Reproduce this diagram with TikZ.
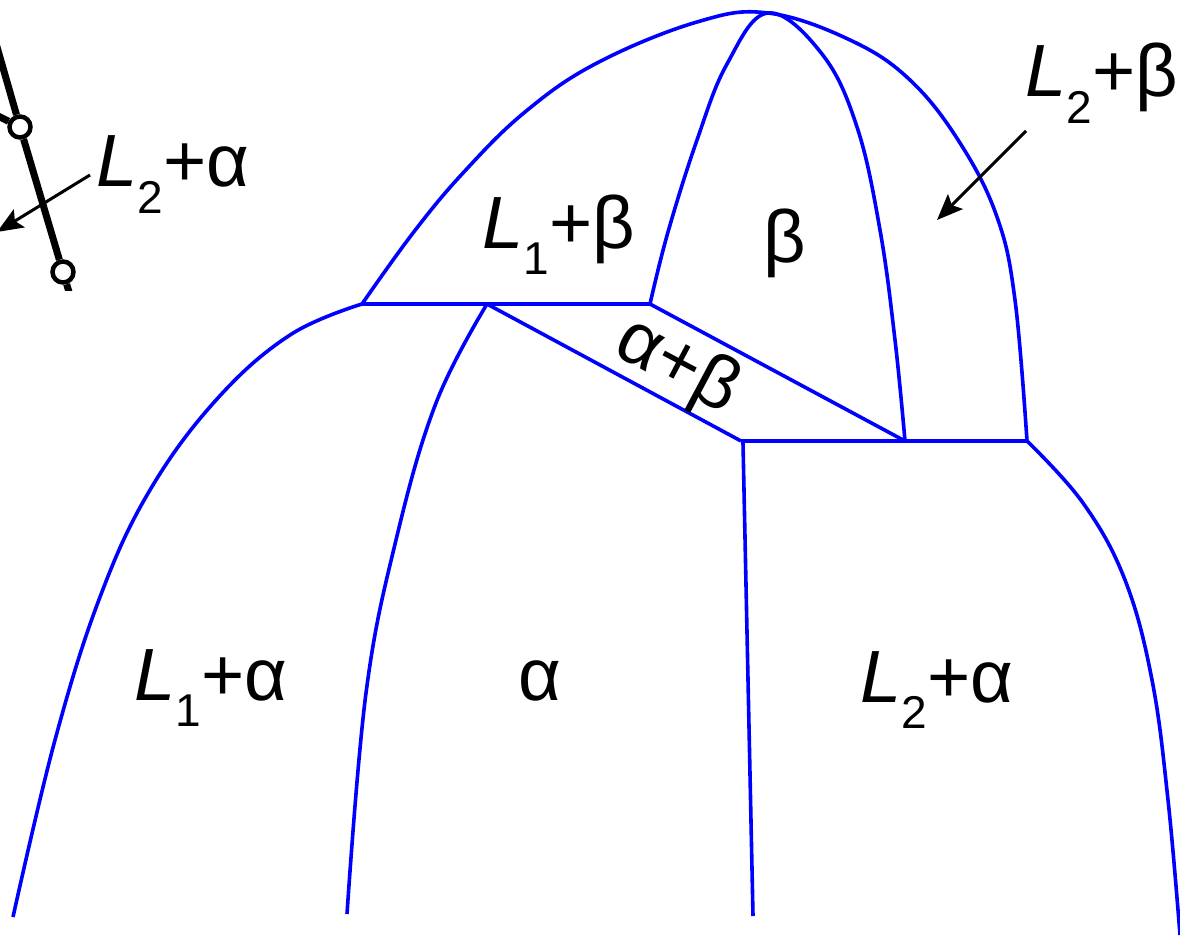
\documentclass[tikz,border=0pt]{standalone}
\usepackage{fontspec}
\setmainfont{Liberation Sans}
\usetikzlibrary{arrows.meta}

\newcommand{\Lph}[1]{\textit{L}\raisebox{-0.36em}{\fontsize{46}{46}\selectfont #1}}

\tikzset{
    PhaseLine/.style = {blue, line width=3.6pt},
    PhaseLabel/.style = {inner sep=0pt, anchor=base, font=\fontsize{74}{80}\selectfont},
    Pointer/.style = {black, line width=3pt, -{Stealth[length=26pt,width=21pt,inset=5pt]}},
    Knot/.style = {circle, draw=black, line width=4.5pt, fill=white, minimum size=21pt, inner sep=0pt}
}

\begin{document}
\begin{tikzpicture}[x=1pt, y=-1pt]
    \useasboundingbox (0,0) rectangle (1180,952);

    % invariant points
    \coordinate (A) at (362,304);
    \coordinate (B) at (487,304);
    \coordinate (C) at (650,304);
    \coordinate (T) at (768,13);
    \coordinate (D) at (741,441);
    \coordinate (E) at (905,441);
    \coordinate (F) at (1027,441);

    % liquidus dome
    \draw[PhaseLine] plot[smooth, tension=0.65] coordinates {(A) (413,233) (463,173) (525,112)
        (597,63) (697,22) (T) (850,40) (910,80) (960,143) (997,217) (1015,300) (F)};
    % beta field
    \draw[PhaseLine] plot[smooth, tension=0.65] coordinates {(C) (668,232) (697,140) (727,64)
        (T) (822,54) (857,127) (880,230) (895,340) (E)};
    \draw[PhaseLine] (A) -- (C);
    \draw[PhaseLine] (B) -- (D);
    \draw[PhaseLine] (C) -- (E);
    \draw[PhaseLine] (D) -- (F);

    % lower boundaries
    \coordinate (Ga) at (13,917);
    \coordinate (Gb) at (347,914);
    \coordinate (Gc) at (753,916);
    \coordinate (Gd) at (1180,935);
    \draw[PhaseLine] plot[smooth, tension=0.65] coordinates {(A) (290,335) (217,399) (150,490)
        (100,597) (55,740) (Ga)};
    \draw[PhaseLine] plot[smooth, tension=0.65] coordinates {(B) (436,403) (396,540)
        (366,693) (Gb)};
    \draw[PhaseLine] (743,443) -- (Gc);
    \draw[PhaseLine] plot[smooth, tension=0.65] coordinates {(F) (1083,503) (1125,580)
        (1152,680) (1168,800) (Gd)};

    % phase labels
    \node[PhaseLabel] (LoB) at (559,248) {\Lph{1}+β};
    \node[PhaseLabel] (Bt) at (785,262) {β};
    \node[PhaseLabel] (LtB) at (1102,97) {\Lph{2}+β};
    \node[PhaseLabel, anchor=center, rotate=-28] (AB) at (677,367) {α+β};
    \node[PhaseLabel] (LoA) at (211,700) {\Lph{1}+α};
    \node[PhaseLabel] (Al) at (540,700) {α};
    \node[PhaseLabel] (LtA) at (937,702) {\Lph{2}+α};

    % piece of the neighbouring diagram
    \begin{scope}
        \clip (0,0) rectangle (85,290);
        \node[Knot] (K1) at (20,127) {};
        \node[Knot] (K2) at (63,272) {};
        \coordinate (Ka) at (-5,40);
        \coordinate (Kb) at (-10,112);
        \coordinate (Kc) at (85,345);
        \draw[black, line width=7pt] (Ka) -- (K1) -- (K2) -- (Kc);
        \draw[black, line width=7pt] (Kb) -- (K1);
    \end{scope}
    \node[PhaseLabel] (LtAx) at (173,187) {\Lph{2}+α};

    % pointers
    \coordinate (Pa) at (90,175);
    \coordinate (Pb) at (-3,232);
    \coordinate (Pc) at (1026,131);
    \coordinate (Pd) at (937,220);
    \draw[Pointer] (Pa) -- (Pb);
    \draw[Pointer] (Pc) -- (Pd);
\end{tikzpicture}
\end{document}
